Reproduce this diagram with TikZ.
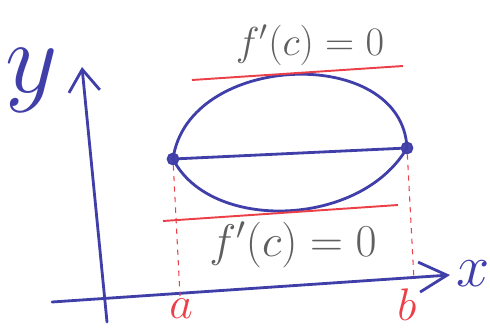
\documentclass[tikz,border=0pt]{standalone}
\usepackage{fix-cm}
\usetikzlibrary{arrows.meta}

\begin{document}
\begin{tikzpicture}[x=0.02cm, y=-0.02cm,
    blueline/.style={draw={rgb,255:red,64;green,62;blue,168}, line width=1.6pt, line cap=round},
    redline/.style={draw={rgb,255:red,236;green,64;blue,72}, line width=1.1pt},
    reddash/.style={draw={rgb,255:red,236;green,64;blue,72}, line width=0.6pt, dashed},
    dotnode/.style={circle, draw={rgb,255:red,64;green,62;blue,168}, fill={rgb,255:red,72;green,70;blue,170}, line width=1pt, minimum size=0.22cm, inner sep=0pt},
    formula/.style={text={rgb,255:red,95;green,95;blue,95}, inner sep=0pt},
    axislabel/.style={text={rgb,255:red,64;green,62;blue,168}, inner sep=0pt},
    endlabel/.style={text={rgb,255:red,236;green,64;blue,72}, inner sep=0pt}]

    \useasboundingbox (0,0) rectangle (490,331);

    % axes
    \coordinate (ndYBottom) at (107,322);
    \coordinate (ndYTop) at (82,67);
    \coordinate (ndXLeft) at (52,302);
    \coordinate (ndXRight) at (450,275);
    \draw[blueline, -{Straight Barb[length=0.44cm, width=0.62cm, line width=1.6pt]}] (ndYBottom) -- (ndYTop);
    \draw[blueline, -{Straight Barb[length=0.56cm, width=0.6cm, line width=1.6pt]}] (ndXLeft) -- (ndXRight);
    \node[axislabel, font=\fontsize{58}{64}\selectfont] (ndYLabel) at (32,80) {$y$};
    \node[axislabel, font=\fontsize{34}{40}\selectfont] (ndXLabel) at (473,274) {$x$};

    % the closed curve and its chord
    \node[dotnode] (ndLeft) at (173,159) {};
    \node[dotnode] (ndRight) at (407,148) {};
    \draw[blueline] (ndLeft.center) .. controls (188,52) and (402,44) .. (ndRight.center);
    \draw[blueline] (ndLeft.center) .. controls (210,232) and (360,228) .. (ndRight.center);
    \draw[blueline] (ndLeft) -- (ndRight);

    % horizontal tangents
    \coordinate (ndTopL) at (192,80);
    \coordinate (ndTopR) at (403,66);
    \coordinate (ndLowL) at (163,221);
    \coordinate (ndLowR) at (398,205);
    \draw[redline] (ndTopL) -- (ndTopR);
    \draw[redline] (ndLowL) -- (ndLowR);

    % drop lines to a and b
    \coordinate (ndA) at (180,296);
    \coordinate (ndB) at (414,280);
    \draw[reddash] (ndLeft) -- (ndA);
    \draw[reddash] (ndRight) -- (ndB);
    \node[endlabel, font=\fontsize{26}{32}\selectfont] (ndALabel) at (181,309) {$a$};
    \node[endlabel, font=\fontsize{26}{32}\selectfont] (ndBLabel) at (407,305) {$b$};

    % labels
    \node[formula, font=\fontsize{23}{27}\selectfont] (ndTopText) at (310,45) {$f'(c)=0$};
    \node[formula, font=\fontsize{26}{30}\selectfont] (ndLowText) at (293,245) {$f'(c)=0$};
\end{tikzpicture}
\end{document}
